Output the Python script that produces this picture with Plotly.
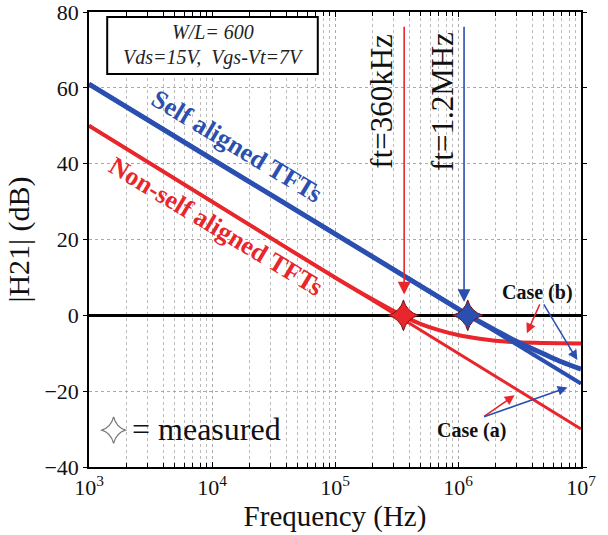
import numpy as np
import plotly.graph_objects as go

# ---------------- data ----------------
red_a_f = [1e3, 1e7]
red_a_db = [50, -30]
red_b_f = [1e3, 1e4, 1e5, 2e5, 3.6e5, 5e5, 7e5, 1e6, 1.5e6, 2e6, 3e6, 5e6, 1e7]
red_b_db = [50, 30, 10, 4.3, -0.2, -2.3, -3.9, -5.2, -6.2, -6.7, -7.1, -7.3, -7.4]

blue_a_f = [1e3, 1e7]
blue_a_db = [61, -18]
blue_b_f = [1e3, 1e4, 1e5, 1e6, 1.5e6, 2e6, 3e6, 5e6, 7e6, 1e7]
blue_b_db = [61, 41.2, 21.5, 1.7, -1.7, -3.9, -6.9, -10.2, -12.3, -14.2]

meas_f = [3.6e5, 1.2e6]
meas_db = [0, 0]
meas_colors = ["#e8262b", "#2b4fb0"]

xtick_vals = [1e3, 1e4, 1e5, 1e6, 1e7]
xtick_text = ["10<sup>3</sup>", "10<sup>4</sup>", "10<sup>5</sup>", "10<sup>6</sup>", "10<sup>7</sup>"]
ytick_vals = [-40, -20, 0, 20, 40, 60, 80]

RED = "#e8262b"
BLUE = "#2b4fb0"
SERIF = "Liberation Serif"

fig = go.Figure()
fig.add_trace(go.Scatter(x=red_a_f, y=red_a_db, mode="lines",
                         line=dict(color=RED, width=3), showlegend=False))
fig.add_trace(go.Scatter(x=red_b_f, y=red_b_db, mode="lines",
                         line=dict(color=RED, width=4, shape="spline"), showlegend=False))
fig.add_trace(go.Scatter(x=blue_a_f, y=blue_a_db, mode="lines",
                         line=dict(color=BLUE, width=4), showlegend=False))
fig.add_trace(go.Scatter(x=blue_b_f, y=blue_b_db, mode="lines",
                         line=dict(color=BLUE, width=5, shape="spline"), showlegend=False))
fig.add_trace(go.Scatter(x=meas_f, y=meas_db, mode="markers",
                         marker=dict(symbol="star-diamond", size=22, color=meas_colors,
                                     line=dict(color="#7a1010", width=1)),
                         showlegend=False))

ann = []
# text box
ann.append(dict(xref="paper", yref="paper", x=0.253, y=0.956, xanchor="center", yanchor="middle",
                text="<i>W/L= 600</i>",
                showarrow=False, font=dict(family=SERIF, size=20, color="#222")))
ann.append(dict(xref="paper", yref="paper", x=0.253, y=0.899, xanchor="center", yanchor="middle",
                text="<i>Vds=15V,  Vgs-Vt=7V</i>",
                showarrow=False, font=dict(family=SERIF, size=20, color="#222")))
# rotated curve labels
ann.append(dict(x=np.log10(1.6e4), y=44.5, text="<b>Self aligned TFTs</b>", textangle=31,
                showarrow=False, font=dict(family=SERIF, size=26, color=BLUE)))
ann.append(dict(x=np.log10(1.08e4), y=23.5, text="<b>Non-self aligned TFTs</b>", textangle=31,
                showarrow=False, font=dict(family=SERIF, size=26, color=RED)))
# ft labels
ann.append(dict(x=np.log10(2.35e5), y=56.5, text="ft=360kHz", textangle=-90,
                showarrow=False, font=dict(family=SERIF, size=31, color="#111")))
ann.append(dict(x=np.log10(7.4e5), y=56.5, text="ft=1.2MHz", textangle=-90,
                showarrow=False, font=dict(family=SERIF, size=31, color="#111")))
# vertical arrows
ann.append(dict(x=np.log10(3.65e5), y=5.5, ax=np.log10(3.65e5), ay=76.5, axref="x", ayref="y",
                text="", showarrow=True, arrowhead=2, arrowsize=1.6, arrowwidth=1.6, arrowcolor=RED))
ann.append(dict(x=np.log10(1.12e6), y=3.5, ax=np.log10(1.12e6), ay=76.5, axref="x", ayref="y",
                text="", showarrow=True, arrowhead=2, arrowsize=1.6, arrowwidth=1.6, arrowcolor=BLUE))
# case (b)
ann.append(dict(x=np.log10(4.4e6), y=6.0, text="<b>Case (b)</b>", showarrow=False,
                font=dict(family=SERIF, size=20, color="#111")))
ann.append(dict(x=6.56, y=-4.7, ax=6.67, ay=3.3, axref="x", ayref="y", text="",
                showarrow=True, arrowhead=2, arrowsize=1.3, arrowwidth=1.5, arrowcolor=RED))
ann.append(dict(x=6.97, y=-11.8, ax=6.69, ay=3.3, axref="x", ayref="y", text="",
                showarrow=True, arrowhead=2, arrowsize=1.3, arrowwidth=1.5, arrowcolor=BLUE))
# case (a)
ann.append(dict(x=np.log10(1.28e6), y=-30.3, text="<b>Case (a)</b>", showarrow=False,
                font=dict(family=SERIF, size=20, color="#111")))
ann.append(dict(x=6.46, y=-21.1, ax=6.20, ay=-26.9, axref="x", ayref="y", text="",
                showarrow=True, arrowhead=2, arrowsize=1.3, arrowwidth=1.5, arrowcolor=RED))
ann.append(dict(x=6.89, y=-19.0, ax=6.20, ay=-26.9, axref="x", ayref="y", text="",
                showarrow=True, arrowhead=2, arrowsize=1.3, arrowwidth=1.5, arrowcolor=BLUE))
# measured legend text
ann.append(dict(xref="paper", yref="paper", x=0.084, y=0.083, xanchor="left", yanchor="middle",
                text="= measured",
                showarrow=False, font=dict(family=SERIF, size=32, color="#111")))

# four-pointed star glyph for the "measured" key
cx, cy, dx, dy = 0.050, 0.081, 0.024, 0.029
k = 0.22
star_path = (f"M {cx},{cy+dy} Q {cx+k*dx},{cy+k*dy} {cx+dx},{cy} "
             f"Q {cx+k*dx},{cy-k*dy} {cx},{cy-dy} "
             f"Q {cx-k*dx},{cy-k*dy} {cx-dx},{cy} "
             f"Q {cx-k*dx},{cy+k*dy} {cx},{cy+dy} Z")

shapes = [
    dict(type="rect", xref="paper", yref="paper", x0=0.037, x1=0.465, y0=0.864, y1=0.989,
         line=dict(color="black", width=2), fillcolor="white", layer="above"),
    dict(type="path", xref="paper", yref="paper", path=star_path,
         line=dict(color="#777", width=1.2), fillcolor="white"),
]

fig.update_layout(
    width=608, height=535,
    margin=dict(l=89, r=27, t=12, b=68, autoexpand=False),
    plot_bgcolor="white", paper_bgcolor="white",
    annotations=ann, shapes=shapes,
    font=dict(family=SERIF, size=20, color="#111"),
    xaxis=dict(type="log", range=[3, 7], tickvals=xtick_vals, ticktext=xtick_text,
               ticks="inside", ticklen=5, tickcolor="black", automargin=False,
               ticklabeloverflow="allow",
               showline=True, linecolor="black", linewidth=1.5, mirror="ticks",
               showgrid=True, gridcolor="#aaaaaa", griddash="dot", gridwidth=1,
               minor=dict(dtick="D1", ticks="inside", ticklen=4, tickcolor="black",
                          showgrid=True, gridcolor="#bbbbbb", griddash="dot"),
               title=dict(text="Frequency (Hz)", font=dict(family=SERIF, size=29), standoff=4),
               tickfont=dict(family=SERIF, size=22), zeroline=False),
    yaxis=dict(range=[-40, 80], tickvals=ytick_vals, ticks="outside", ticklen=4,
               tickcolor="black", showline=True, linecolor="black", linewidth=1.5,
               automargin=False, ticklabeloverflow="allow",
               mirror="ticks", showgrid=True, gridcolor="#aaaaaa", griddash="dot",
               zeroline=True, zerolinecolor="black", zerolinewidth=3,
               title=dict(text="|H21| (dB)", font=dict(family=SERIF, size=30), standoff=6),
               tickfont=dict(family=SERIF, size=22)),
)

fig.write_html("out.html", config={"displayModeBar": False},
               post_script="document.body.style.margin='0px';document.body.style.overflow='hidden';")
